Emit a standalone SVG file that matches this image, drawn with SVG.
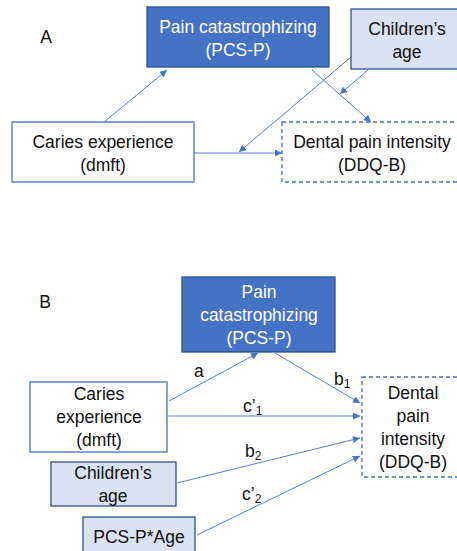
<svg xmlns="http://www.w3.org/2000/svg" width="457" height="551" viewBox="0 0 457 551">
<style>
text{font-family:"Liberation Sans","Open Sans",sans-serif;font-size:17.5px;fill:#111;}
.c{text-anchor:middle;}
.w{fill:#fff;}
.dark{fill:#4472C4;stroke:#2F528F;stroke-width:1.3;}
.light{fill:#DAE3F3;stroke:#2F528F;stroke-width:1.3;}
.plain{fill:#fff;stroke:#4472C4;stroke-width:1.3;}
.dash{fill:#fff;stroke:#4472C4;stroke-width:1.3;stroke-dasharray:4 3;}
.ln{stroke:#4472C4;stroke-width:0.9;fill:none;marker-end:url(#ah);}
.sub{font-size:12px;}
</style>
<defs>
<marker id="ah" viewBox="0 0 10 10" refX="10" refY="5" markerWidth="8" markerHeight="7" markerUnits="userSpaceOnUse" orient="auto">
<path d="M0,0 L10,5 L0,10 z" fill="#4472C4"/>
</marker>
</defs>
<rect width="457" height="551" fill="#fff"/>
<text x="46" y="43" class="c">A</text>
<text x="45" y="308" class="c">B</text>
<g id="a-pcs"><rect class="dark" x="147" y="7" width="182" height="60"/><text class="c w" x="238" y="33">Pain catastrophizing</text><text class="c w" x="238" y="56">(PCS-P)</text></g>
<g id="a-age"><rect class="light" x="351" y="9" width="110" height="60"/><text class="c" x="407" y="35">Children’s</text><text class="c" x="407" y="58">age</text></g>
<g id="a-caries"><rect class="plain" x="12" y="122" width="182" height="60"/><text class="c" x="103" y="148">Caries experience</text><text class="c" x="103" y="171">(dmft)</text></g>
<g id="a-dental"><rect class="dash" x="282" y="122" width="180" height="60"/><text class="c" x="372" y="148">Dental pain intensity</text><text class="c" x="372" y="171">(DDQ-B)</text></g>
<g id="b-pcs"><rect class="dark" x="182" y="277" width="153" height="75"/><text class="c w" x="259" y="298">Pain</text><text class="c w" x="259" y="321">catastrophizing</text><text class="c w" x="259" y="344">(PCS-P)</text></g>
<g id="b-caries"><rect class="plain" x="30" y="382" width="137" height="70"/><text class="c" x="99" y="400">Caries</text><text class="c" x="99" y="423">experience</text><text class="c" x="99" y="446">(dmft)</text></g>
<g id="b-dental"><rect class="dash" x="362" y="377" width="100" height="100"/><text class="c" x="413" y="399">Dental</text><text class="c" x="413" y="422">pain</text><text class="c" x="413" y="445">intensity</text><text class="c" x="413" y="468">(DDQ-B)</text></g>
<g id="b-age"><rect class="light" x="51" y="462" width="125" height="44"/><text class="c" x="113" y="479">Children’s</text><text class="c" x="113" y="502">age</text></g>
<g id="b-int"><rect class="light" x="83" y="517" width="112" height="40"/><text class="c" x="139" y="543">PCS-P*Age</text></g>
<g id="connectors">
<line class="ln" x1="104" y1="122" x2="167" y2="70"/>
<line class="ln" x1="312" y1="70" x2="371" y2="122"/>
<line class="ln" x1="351" y1="57" x2="239" y2="152"/>
<line class="ln" x1="368" y1="70" x2="340" y2="94"/>
<line class="ln" x1="194" y1="153" x2="282" y2="153"/>
<line class="ln" x1="169" y1="401" x2="258" y2="353"/>
<line class="ln" x1="275" y1="353" x2="360" y2="403"/>
<line class="ln" x1="167" y1="416" x2="360" y2="416"/>
<line class="ln" x1="177" y1="483" x2="360" y2="438"/>
<line class="ln" x1="197" y1="535" x2="360" y2="456"/>
</g>
<g id="labels">
<text x="194" y="377">a</text>
<text x="334" y="385">b<tspan class="sub" dy="3">1</tspan></text>
<text x="243" y="412">c’<tspan class="sub" dy="3">1</tspan></text>
<text x="245" y="457">b<tspan class="sub" dy="3">2</tspan></text>
<text x="242" y="500">c’<tspan class="sub" dy="3">2</tspan></text>
</g>
</svg>
